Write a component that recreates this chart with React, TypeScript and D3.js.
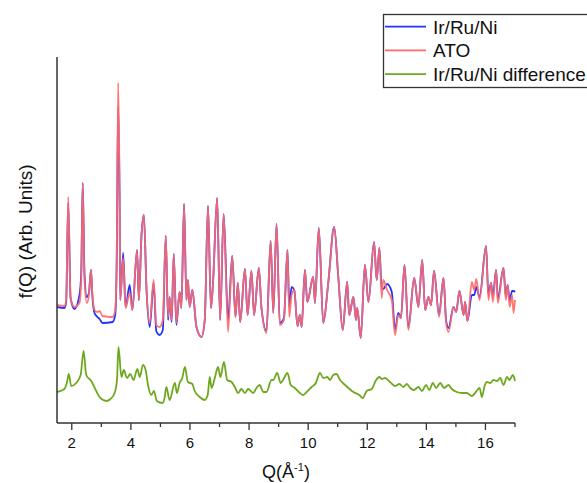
import * as d3 from "d3";

const W = 587;
const H = 483;

// Q values (Å^-1) shared by the two measured curves
const qMain = [
  1.5, 1.75, 1.81, 1.88, 1.96, 2.09, 2.26, 2.32, 2.37, 2.43, 2.51, 2.58, 2.65, 2.7, 2.77, 2.87, 2.94, 3.04, 3.38, 3.47,
  3.52, 3.57, 3.62, 3.64, 3.74, 3.82, 3.96, 4.05, 4.21, 4.27, 4.36, 4.44, 4.53, 4.64, 4.77, 4.86, 4.97, 5.08, 5.18, 5.26,
  5.31, 5.38, 5.45, 5.54, 5.65, 5.71, 5.8, 5.88, 5.93, 5.99, 6.08, 6.22, 6.39, 6.5, 6.61, 6.71, 6.78, 6.92, 7.02, 7.14,
  7.29, 7.43, 7.54, 7.62, 7.7, 7.86, 7.95, 8.08, 8.17, 8.33, 8.42, 8.59, 8.73, 8.82, 8.93, 9.04, 9.18, 9.3, 9.36, 9.44,
  9.53, 9.64, 9.72, 9.78, 9.89, 9.97, 10.17, 10.23, 10.36, 10.51, 10.68, 10.88, 11.02, 11.17, 11.32, 11.39, 11.53, 11.62, 11.66, 11.78,
  11.92, 12.04, 12.23, 12.32, 12.41, 12.49, 12.54, 12.67, 12.83, 12.94, 13.05, 13.14, 13.26, 13.39, 13.59, 13.73, 13.86, 13.96, 14.07, 14.16,
  14.26, 14.43, 14.58, 14.67, 14.75, 14.92, 15.01, 15.12, 15.26, 15.31, 15.39, 15.54, 15.62, 15.69, 15.8, 16.02, 16.1, 16.19, 16.25, 16.36,
  16.42, 16.61, 16.69, 16.75, 16.82, 16.9, 16.95, 17.0,
];

const irRuNi = [
  116, 115, 121, 220, 125, 114, 128, 150, 240, 150, 126, 130, 153, 126, 110, 106, 104, 100, 101, 108,
  160, 316, 215, 123, 170, 116, 138, 113, 173, 123, 188, 208, 133, 96, 140, 92, 88, 93, 187, 103,
  126, 101, 169, 98, 131, 115, 219, 123, 143, 116, 133, 96, 86, 103, 217, 115, 140, 225, 103, 209,
  103, 167, 106, 140, 101, 154, 108, 152, 108, 155, 115, 92, 182, 110, 199, 100, 105, 173, 116, 136,
  133, 97, 108, 96, 153, 121, 146, 120, 195, 100, 140, 196, 146, 93, 141, 108, 126, 103, 115, 85,
  158, 121, 181, 143, 175, 134, 134, 139, 131, 93, 110, 105, 158, 95, 145, 116, 163, 113, 126, 118,
  152, 108, 145, 102, 95, 116, 111, 132, 108, 121, 102, 128, 128, 136, 126, 177, 128, 140, 126, 153,
  124, 155, 126, 138, 122, 132, 132, 131,
];

const ato = [
  118, 117, 123, 226, 125, 116, 120, 143, 240, 143, 120, 128, 153, 128, 113, 111, 112, 107, 106, 113,
  163, 340, 223, 123, 165, 115, 130, 113, 173, 123, 188, 208, 133, 100, 143, 98, 96, 103, 187, 106,
  126, 103, 169, 100, 131, 115, 219, 123, 143, 116, 133, 96, 86, 103, 217, 115, 140, 225, 103, 209,
  91, 167, 106, 140, 101, 154, 108, 152, 108, 155, 115, 90, 182, 110, 199, 98, 103, 173, 106, 128,
  133, 97, 108, 96, 153, 121, 146, 120, 195, 100, 140, 196, 146, 93, 141, 108, 126, 103, 115, 85,
  158, 121, 181, 143, 175, 125, 143, 133, 123, 88, 108, 105, 158, 93, 145, 116, 163, 113, 126, 118,
  152, 106, 145, 100, 91, 116, 111, 132, 108, 121, 102, 141, 133, 144, 123, 177, 123, 140, 121, 153,
  120, 155, 123, 138, 116, 128, 110, 123,
];

const qDiff = [
  1.5, 1.75, 1.84, 1.9, 1.98, 2.15, 2.3, 2.4, 2.49, 2.66, 2.81, 2.94, 3.17, 3.31, 3.45, 3.53, 3.58, 3.68, 3.76, 3.87,
  3.98, 4.09, 4.22, 4.3, 4.41, 4.5, 4.58, 4.69, 4.78, 4.88, 5.07, 5.14, 5.2, 5.31, 5.49, 5.56, 5.65, 5.74, 5.83, 5.93,
  6.08, 6.16, 6.33, 6.5, 6.6, 6.67, 6.73, 6.84, 6.95, 7.03, 7.15, 7.26, 7.41, 7.52, 7.63, 7.74, 7.86, 7.97, 8.14, 8.25,
  8.36, 8.48, 8.59, 8.76, 8.82, 8.95, 9.07, 9.15, 9.3, 9.41, 9.55, 9.72, 9.83, 9.95, 10.12, 10.26, 10.4, 10.51, 10.65, 10.74,
  10.85, 10.96, 11.08, 11.25, 11.36, 11.53, 11.73, 11.85, 11.98, 12.15, 12.3, 12.41, 12.49, 12.6, 12.77, 12.94, 13.09, 13.22, 13.34, 13.45,
  13.58, 13.73, 13.85, 13.99, 14.1, 14.22, 14.33, 14.47, 14.6, 14.75, 14.86, 15.03, 15.2, 15.37, 15.54, 15.65, 15.8, 15.88, 15.97, 16.05,
  16.16, 16.27, 16.39, 16.5, 16.61, 16.73, 16.81, 16.93, 17.0,
];

const diff = [
  31, 34, 41, 49, 37, 40, 48, 72, 48, 42, 33, 26, 22, 24, 30, 43, 76, 46, 53, 45,
  49, 43, 54, 46, 58, 53, 38, 28, 32, 22, 20, 25, 36, 23, 40, 30, 40, 45, 56, 41,
  39, 32, 26, 23, 28, 46, 35, 45, 56, 46, 61, 43, 41, 36, 30, 34, 30, 34, 30, 35,
  38, 31, 31, 43, 43, 50, 40, 43, 50, 38, 35, 30, 28, 31, 36, 40, 50, 45, 46, 43,
  48, 49, 43, 38, 35, 31, 28, 25, 32, 34, 43, 46, 44, 45, 41, 37, 39, 36, 39, 35,
  33, 36, 32, 38, 33, 40, 35, 40, 35, 38, 34, 31, 30, 30, 27, 30, 35, 26, 37, 41,
  40, 43, 42, 45, 38, 46, 43, 48, 42,
];

const xTicks = [2, 4, 6, 8, 10, 12, 14, 16];
const xMinorTicks = [3, 5, 7, 9, 11, 13, 15, 17];

const legendItems = [
  { label: "Ir/Ru/Ni", color: "#2233ff" },
  { label: "ATO", color: "#ff6a6a" },
  { label: "Ir/Ru/Ni difference", color: "#6fa81e" },
];

const font = "'Liberation Sans', Arial, sans-serif";

function App() {
  const left = 57;
  const right = 515;
  const top = 57;
  const bottom = 423;

  const x = d3.scaleLinear().domain([1.5, 17]).range([left, right]);
  const y = d3.scaleLinear().domain([0, 366]).range([bottom, top]);

  const line = d3
    .line<[number, number]>()
    .x((d) => x(d[0]))
    .y((d) => y(d[1]))
    .curve(d3.curveMonotoneX);

  const bluePath = line(qMain.map((q, i) => [q, irRuNi[i]]));
  const redPath = line(qMain.map((q, i) => [q, ato[i]]));
  const greenPath = line(qDiff.map((q, i) => [q, diff[i]]));

  return (
    <svg
      width={W}
      height={H}
      style={{ position: "absolute", left: 0, top: 0, background: "#fff" }}
      fontFamily={font}
    >
      <path d={bluePath} fill="none" stroke="#2233ff" strokeWidth={1.8} />
      <path d={redPath} fill="none" stroke="#ff6a6a" strokeWidth={1.8} strokeOpacity={0.92} />
      <path d={greenPath} fill="none" stroke="#6fa81e" strokeWidth={1.8} />

      {/* axes */}
      <line x1={left} x2={left} y1={top} y2={bottom} stroke="#333" strokeWidth={1.5} />
      <line x1={left} x2={right} y1={bottom} y2={bottom} stroke="#333" strokeWidth={1.5} />
      {xTicks.map((t) => (
        <g key={t}>
          <line x1={x(t)} x2={x(t)} y1={bottom} y2={bottom + 7} stroke="#333" strokeWidth={1.3} />
          <text x={x(t)} y={448} textAnchor="middle" fontSize={15} fill="#111">
            {t}
          </text>
        </g>
      ))}
      {xMinorTicks.map((t) => (
        <line key={t} x1={x(t)} x2={x(t)} y1={bottom} y2={bottom + 4} stroke="#333" strokeWidth={1.3} />
      ))}

      <text x={286} y={478} textAnchor="middle" fontSize={18} fill="#111">
        Q(Å
        <tspan dy={-7} fontSize={11}>
          -1
        </tspan>
        <tspan dy={7}>)</tspan>
      </text>
      <text
        transform={`translate(32,231.5) rotate(-90)`}
        textAnchor="middle"
        fontSize={19}
        fill="#111"
      >
        f(Q) (Arb. Units)
      </text>

      {/* legend */}
      <rect x={383.5} y={14.5} width={220} height={73} fill="#fff" stroke="#333" strokeWidth={1.3} />
      {legendItems.map((it, i) => (
        <g key={it.label} transform={`translate(0,${26.7 + i * 23.7})`}>
          <line x1={385} x2={426} y1={0} y2={0} stroke={it.color} strokeWidth={1.8} />
          <text x={433} y={6.8} fontSize={19} fill="#111">
            {it.label}
          </text>
        </g>
      ))}
    </svg>
  );
}

export default App;
